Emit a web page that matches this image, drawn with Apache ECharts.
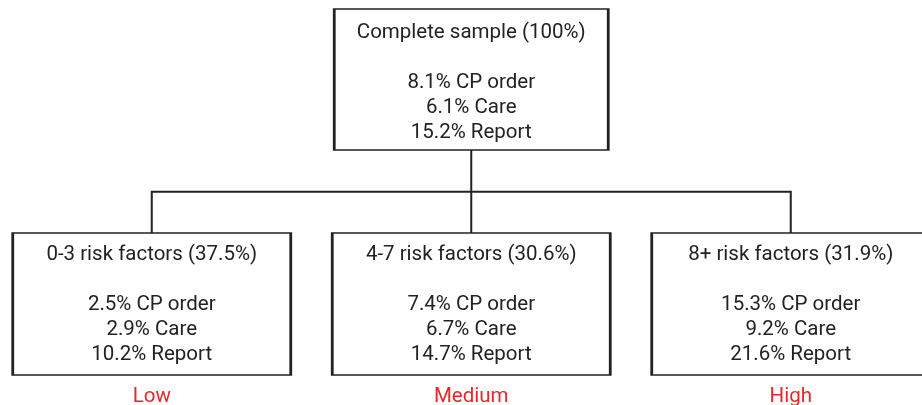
<!DOCTYPE html>
<html>
<head>
<meta charset="utf-8">
<script src="https://cdn.jsdelivr.net/npm/echarts@6/dist/echarts.min.js"></script>
<style>html,body{margin:0;padding:0;background:#fff}#c{width:922px;height:405px}</style>
</head>
<body>
<div id="c"></div>
<script>
const groupNames = ['Complete sample', '0-3 risk factors', '4-7 risk factors', '8+ risk factors'];
const groupShares = [100, 37.5, 30.6, 31.9];
const cpOrder = [8.1, 2.5, 7.4, 15.3];
const care = [6.1, 2.9, 6.7, 9.2];
const report = [15.2, 10.2, 14.7, 21.6];
const riskLevels = ['', 'Low', 'Medium', 'High'];

function pct(v) { return v === 100 ? '100%' : v.toFixed(1) + '%'; }
function nodeText(i) {
  const lines = [
    '{t|' + groupNames[i] + ' (' + pct(groupShares[i]) + ')}',
    '{t| }',
    '{t|' + cpOrder[i].toFixed(1) + '% CP order}',
    '{t|' + care[i].toFixed(1) + '% Care}',
    '{t|' + report[i].toFixed(1) + '% Report}'
  ];
  if (riskLevels[i]) lines.push('{r|' + riskLevels[i] + '}');
  return lines.join('\n');
}
function makeNode(i, size, offset) {
  return {
    name: groupNames[i],
    symbolSize: size,
    label: { formatter: nodeText(i), offset: offset }
  };
}
const root = makeNode(0, [274, 141], [0, 3.5]);
root.children = [1, 2, 3].map(i => makeNode(i, [278, 142], [0, 30]));

const chart = echarts.init(document.getElementById('c'), null, { renderer: 'canvas' });
const rich = {
  t: { fontFamily: 'Roboto', fontSize: 20.5, color: '#222', lineHeight: 25, align: 'center' },
  r: { fontFamily: 'Roboto', fontSize: 20.5, color: '#e8262b', lineHeight: 59, align: 'center' }
};
chart.setOption({
  backgroundColor: '#ffffff',
  animation: false,
  series: [{
    type: 'tree',
    data: [root],
    layout: 'orthogonal',
    orient: 'TB',
    edgeShape: 'polyline',
    edgeForkPosition: '50%',
    left: -8,
    width: 958.5,
    top: 79.5,
    bottom: 101,
    roam: false,
    expandAndCollapse: false,
    initialTreeDepth: -1,
    symbol: 'rect',
    itemStyle: { color: '#ffffff', borderColor: '#222', borderWidth: 2 },
    lineStyle: { color: '#222', width: 2, curveness: 0 },
    label: { show: true, position: 'inside', align: 'center', verticalAlign: 'middle', rich: rich },
    leaves: { label: { show: true, position: 'inside', align: 'center', verticalAlign: 'middle', rich: rich } },
    emphasis: { disabled: true }
  }]
});
</script>
</body>
</html>
